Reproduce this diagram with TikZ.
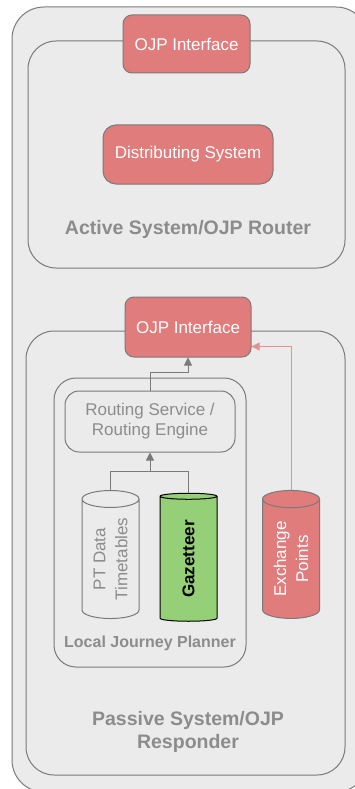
\documentclass[tikz,border=0pt]{standalone}
\usepackage{fontspec}
\setmainfont{Liberation Sans}
\usetikzlibrary{shapes.geometric, arrows.meta, calc}
\definecolor{pane}{HTML}{EBEBEB}
\definecolor{edge}{HTML}{7A7A7A}
\definecolor{faint}{HTML}{8C8C8C}
\definecolor{rose}{HTML}{E07C7C}
\definecolor{leaf}{HTML}{95CF78}
\definecolor{roseline}{HTML}{E89090}
\tikzset{frame/.style={draw=edge, line width=1pt, fill=pane, rounded corners=28pt},
  redbox/.style={draw=edge, line width=1pt, fill=rose, text=white, rounded corners=9pt, font=\fontsize{17}{20}\selectfont},
  tank/.style={cylinder, rotate=90, draw=edge, line width=1pt, fill=pane, aspect=0.5, minimum width=57pt, minimum height=128pt, inner sep=0pt, align=center, font=\fontsize{17}{22}\selectfont},
  title/.style={text=faint, font=\bfseries\fontsize{19.5}{23}\selectfont, align=center},
  link/.style={draw=edge, line width=1pt, -{Triangle[length=8pt,width=8pt]}}}

\begin{document}
\begin{tikzpicture}[x=1pt,y=-1pt]
\useasboundingbox (0,0) rectangle (354,789);
% frames
\node[frame, rounded corners=32pt, minimum width=356pt, minimum height=785pt] (outer) at (190,399.5) {};
\node[frame, minimum width=317pt, minimum height=227pt] (active) at (186.5,154.5) {};
\node[frame, minimum width=319pt, minimum height=444pt] (passive) at (185.5,553) {};
\node[frame, rounded corners=22pt, minimum width=192pt, minimum height=289pt] (ljp) at (150,522.5) {};

% active system
\node[redbox, minimum width=127pt, minimum height=58pt] (ojpA) at (186.5,44) {OJP Interface};
\node[redbox, rounded corners=13pt, minimum width=170pt, minimum height=59pt] (dist) at (188,154.5) {Distributing System};
\node[title, anchor=base] (activelabel) at (188,234) {Active System/OJP Router};

% passive system
\node[redbox, minimum width=126pt, minimum height=60pt] (ojpB) at (188,327) {OJP Interface};
\node[draw=edge, line width=1pt, fill=pane, rounded corners=14pt, text=faint, align=center,
  font=\fontsize{17}{20}\selectfont, minimum width=170pt, minimum height=61pt] (rs) at (150,421.5) {Routing Service /\\Routing Engine};
\node[tank, text=faint] (pt) at (110.5,559) {PT Data\\Timetables};
\node[tank, draw=black, fill=leaf, font=\bfseries\fontsize{17}{22}\selectfont] (gz) at (188.5,559) {Gazetteer};
\node[tank, fill=rose, text=white] (ex) at (291,559) {Exchange\\Points};
\node[title, anchor=base, font=\bfseries\fontsize{16}{19}\selectfont] (ljplabel) at (150,647) {Local Journey Planner};
\node[title] (passivelabel) at (188,732) {Passive System/OJP\\Responder};

% connectors
\coordinate (join) at ($(rs.south)+(0,19)$);
\draw[draw=edge, line width=1pt] (pt.top) |- (join) -| (gz.top);
\draw[link] (join) -- (rs.south);
\draw[link] (rs.north) -- ++(0,-18) -| (ojpB.south);
\draw[link, draw=roseline] (ex.top) |- ($(ojpB.south east)+(0,-11)$);
\end{tikzpicture}
\end{document}
